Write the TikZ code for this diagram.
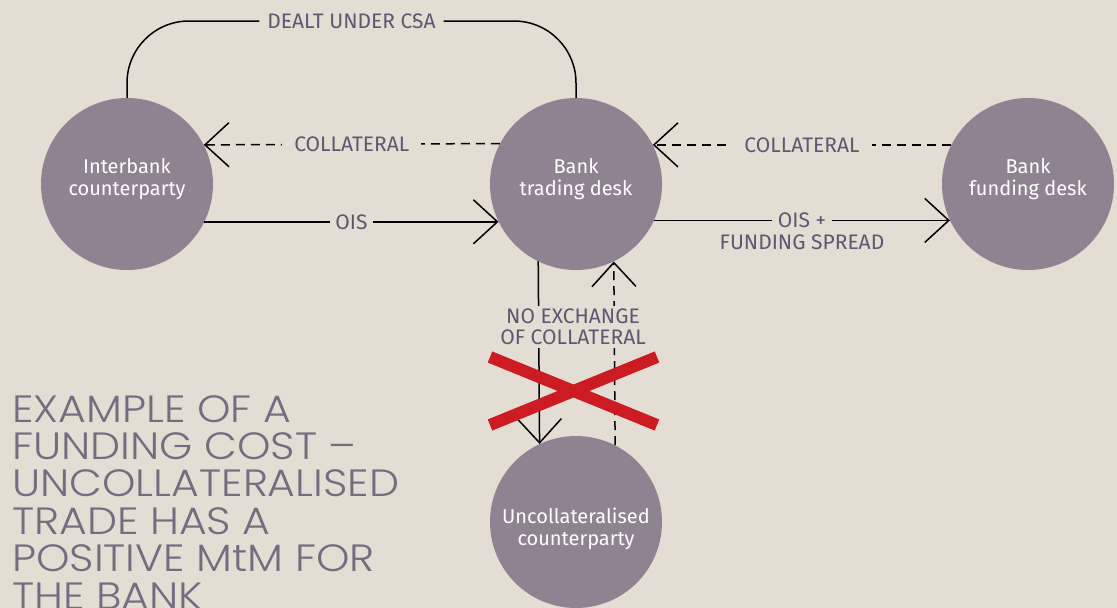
\documentclass[tikz,border=0pt]{standalone}
\usepackage{fontspec}
\setmainfont{Fira Sans}
\newfontfamily\titlefont{Poppins}[UprightFont=* Light, FakeStretch=1.12]
\usetikzlibrary{arrows.meta,calc}
\definecolor{bg}{HTML}{E3DDD3}
\definecolor{circ}{HTML}{8F8391}
\definecolor{lblc}{HTML}{5F5771}
\definecolor{titlec}{HTML}{766B7F}
\definecolor{xred}{HTML}{CD1B24}
\tikzset{
  party/.style={circle, fill=circ, minimum size=172pt, inner sep=0pt},
  partytext/.style={text=white, align=center, inner sep=0pt, font=\fontsize{20}{22}\selectfont},
  conn/.style={line width=1.5pt, black, -{Straight Barb[length=24pt,width=44pt]}},
  plain/.style={line width=1.5pt, black},
  dashconn/.style={conn, dash pattern=on 9pt off 6pt},
  lbl/.style={fill=bg, text=lblc, font=\fontsize{21}{21}\selectfont, inner xsep=6pt, inner ysep=2pt},
  dlbl/.style={lbl, inner xsep=12pt},
  xmark/.style={line width=12pt, xred}
}
\begin{document}
\begin{tikzpicture}[x=1pt,y=-1pt]
\fill[bg] (0,0) rectangle (1117,608);
\useasboundingbox (0,0) rectangle (1117,608);

\node[party] (inter) at (127,184) {};
\node[party] (trade) at (576,184) {};
\node[party] (fund) at (1028,184) {};
\node[party] (uncoll) at (576,522) {};
\node[partytext] (interT) at ($(inter)+(0,-4.5)$) {Interbank\\counterparty};
\node[partytext] (tradeT) at ($(trade)+(0,-4.5)$) {Bank\\trading desk};
\node[partytext] (fundT) at ($(fund)+(0,-4.5)$) {Bank\\funding desk};
\node[partytext] (uncollT) at ($(uncoll)+(0,6.5)$) {Uncollateralised\\counterparty};

% top arc
\coordinate (topline) at (0,21);
\draw[plain, rounded corners=62pt] (inter.north) |- node[pos=0.75, lbl, inner xsep=8pt] (csa) {DEALT UNDER CSA} (topline -| trade.north) -- (trade.north);

% left pair
\draw[dashconn] (trade.152.3) -- node[dlbl] (coll1) {COLLATERAL} (inter.27.7);
\draw[conn] (inter.-26.2) -- node[lbl, inner xsep=5pt] (ois1) {OIS} (trade.206.2);

% right pair
\draw[dashconn] (fund.153) -- node[dlbl] (coll2) {COLLATERAL} (trade.27);
\draw[conn] (trade.-25.5) -- node[lbl, inner xsep=6pt] (ois2) {OIS +} (fund.205.5);
\node[text=lblc, font=\fontsize{21}{21}\selectfont, anchor=base, inner sep=0pt] (spread) at ($(ois2.base)+(0,22)$) {FUNDING SPREAD};

% vertical pair
\draw[conn] (trade.244.5) -- (uncoll.115.5);
\draw[dashconn] (uncoll.63.8) -- (trade.296.2);
\node[lbl, align=center, inner xsep=1pt, inner ysep=3pt, font=\fontsize{21}{21}\selectfont] (noex) at (573,327) {NO EXCHANGE\\OF COLLATERAL};

% red cross
\draw[xmark] (490,357) -- (657,425);
\draw[xmark] (490,425) -- (657,357);

% title
\node[anchor=north west, align=left, inner sep=0pt, text=titlec,
  font=\titlefont\fontsize{38}{37.4}\selectfont] (title) at (12,395)
  {EXAMPLE OF A\\FUNDING COST –\\UNCOLLATERALISED\\TRADE HAS A\\POSITIVE MtM FOR\\THE BANK};
\end{tikzpicture}
\end{document}
